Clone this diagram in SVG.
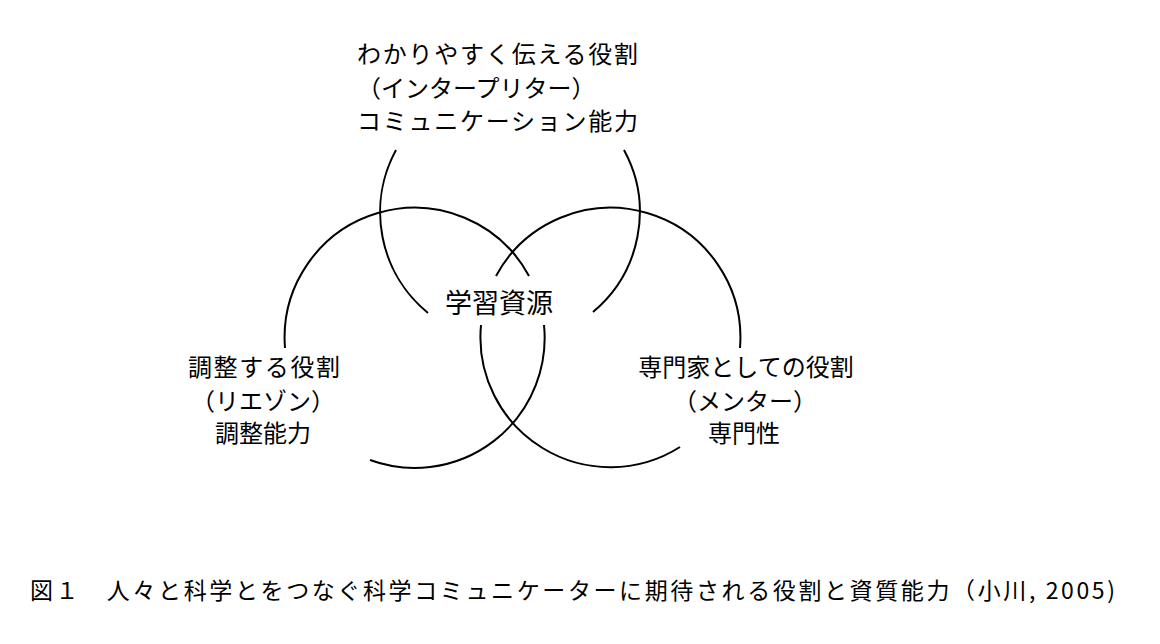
<svg xmlns="http://www.w3.org/2000/svg" width="1160" height="644" viewBox="0 0 1160 644">
<style>
.arc{fill:none;stroke:#000;stroke-width:2}
text{font-family:"Noto Sans CJK JP","Noto Sans",sans-serif;fill:#000}
.lab{font-size:24px}
.mid{text-anchor:middle}
</style>
<rect width="1160" height="644" fill="#fff"/>
<g id="connectors">
<path class="arc" d="M396,150 A130,130 0 0 0 428,313"/>
<path class="arc" d="M593,312 A130,130 0 0 0 624,150"/>
<path class="arc" d="M285,348 A130,130 0 0 1 529,276"/>
<path class="arc" d="M544,325 A130,130 0 0 1 370,460"/>
<path class="arc" d="M496,276 A130,130 0 0 1 740,348"/>
<path class="arc" d="M680,447 A130,130 0 0 1 481,325"/>
</g>
<g id="interpreter">
<text class="lab" x="357" y="63" textLength="281" lengthAdjust="spacing">わかりやすく伝える役割</text>
<text class="lab" x="357" y="97">（インタープリター）</text>
<text class="lab" x="357" y="130" textLength="281" lengthAdjust="spacing">コミュニケーション能力</text>
</g>
<g id="liaison">
<text class="lab mid" x="264" y="376" textLength="152" lengthAdjust="spacing">調整する役割</text>
<text class="lab mid" x="263" y="410">（リエゾン）</text>
<text class="lab mid" x="263" y="442">調整能力</text>
</g>
<g id="mentor">
<text class="lab mid" x="746" y="376">専門家としての役割</text>
<text class="lab mid" x="745" y="410">（メンター）</text>
<text class="lab mid" x="744" y="442">専門性</text>
</g>
<g id="resource">
<text class="mid" x="499" y="313" font-size="27">学習資源</text>
</g>
<g id="caption">
<text x="30" y="599" font-size="23" textLength="1085" lengthAdjust="spacing">図１　人々と科学とをつなぐ科学コミュニケーターに期待される役割と資質能力（小川, 2005)</text>
</g>
</svg>
